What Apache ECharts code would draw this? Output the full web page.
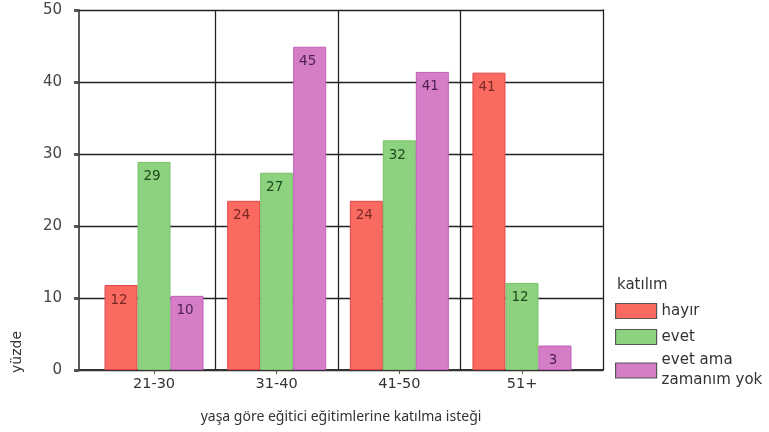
<!DOCTYPE html>
<html><head><meta charset="utf-8">
<script src="https://cdn.jsdelivr.net/npm/echarts@6/dist/echarts.min.js"></script>
<style>html,body{margin:0;padding:0;background:#fff}#c{width:769px;height:432px}</style>
</head><body><div id="c"></div>
<script>
const categories = ['21-30', '31-40', '41-50', '51+'];
const hayir = [11.8, 23.5, 23.5, 41.3];
const evet = [28.9, 27.4, 31.9, 12.1];
const evetAma = [10.3, 44.9, 41.4, 3.4];
const seriesNames = ['hayır', 'evet', 'evet ama zamanım yok'];
const yTicks = [0, 10, 20, 30, 40, 50];

const FONT = 'Noto Sans';
const FONT2 = 'DejaVu Sans';
// layout: frame box and inner category band box (pixels)
const frameL = 79, frameR = 603, bandL = 92.7, bandR = 583.3, gTop = 10, gBottom = 62;
const unit = (bandR - bandL) / categories.length;

const chart = echarts.init(document.getElementById('c'), null, {renderer: 'canvas'});
function mk(name, data, color, border, labelColor) {
  return {
    name, type: 'bar', data, barWidth: 33, barGap: '0%',
    xAxisIndex: 1, yAxisIndex: 2,
    itemStyle: {color, borderColor: border, borderWidth: 1},
    label: {show: true, position: 'insideTop', offset: [-2, 3], color: labelColor,
      fontFamily: FONT2, fontSize: 13.5, formatter: p => Math.round(p.value)}
  };
}
chart.setOption({
  animation: false,
  textStyle: {fontFamily: FONT},
  grid: [
    {left: frameL, right: 769 - frameR, top: gTop, bottom: gBottom},
    {left: bandL, right: 769 - bandR, top: gTop, bottom: gBottom}
  ],
  xAxis: [
    {
      type: 'value', gridIndex: 0,
      min: -(bandL - frameL) / unit, max: categories.length + (frameR - bandR) / unit,
      axisLine: {show: true, onZero: false, lineStyle: {color: '#333', width: 2}},
      axisTick: {show: false}, axisLabel: {show: false}, splitLine: {show: false},
      name: 'yaşa göre eğitici eğitimlerine katılma isteği',
      nameLocation: 'middle', nameGap: 40,
      nameTextStyle: {fontFamily: FONT, fontSize: 14, color: '#333'}
    },
    {
      type: 'category', gridIndex: 1, data: categories,
      axisLine: {show: false},
      axisTick: {show: true, alignWithLabel: true, length: 4, lineStyle: {color: '#555'}},
      axisLabel: {fontFamily: FONT2, fontSize: 14.5, color: '#333', margin: 7},
      splitLine: {show: false}
    }
  ],
  yAxis: [
    {
      type: 'value', gridIndex: 0, min: 0, max: 50, interval: 10,
      axisLine: {show: true, onZero: false, lineStyle: {color: '#222', width: 1.5}},
      axisTick: {show: true, length: 5, lineStyle: {color: '#555', width: 3}},
      axisLabel: {fontFamily: FONT2, fontSize: 15, color: '#444', margin: 17,
        formatter: v => yTicks.includes(v) ? String(v) : ''},
      splitLine: {show: true, lineStyle: {color: '#222', width: 1.3}}
    },
    {
      type: 'value', gridIndex: 0, min: 0, max: 50, position: 'right',
      axisLine: {show: true, onZero: false, lineStyle: {color: '#222', width: 1.3}},
      axisTick: {show: false}, axisLabel: {show: false}, splitLine: {show: false}
    },
    {
      type: 'value', gridIndex: 1, min: 0, max: 50, interval: 10, show: false
    }
  ],
  legend: {
    orient: 'vertical', left: 610, top: 296, height: 300, itemWidth: 41, itemHeight: 15, itemGap: 6,
    icon: 'rect',
    itemStyle: {borderColor: '#555', borderWidth: 1.2},
    textStyle: {fontFamily: FONT2, fontSize: 15, color: '#333', lineHeight: 20},
    data: [
      {name: seriesNames[0]},
      {name: seriesNames[1]},
      {name: seriesNames[2], textStyle: {height: 20}}
    ],
    formatter: n => n === 'evet ama zamanım yok' ? 'evet ama\nzamanım yok' : n
  },
  graphic: [
    {type: 'text', left: 617, top: 278, style: {text: 'katılım', fontFamily: FONT2, fontSize: 15, fill: '#333'}},
    {type: 'text', x: 10, y: 373, rotation: Math.PI / 2, style: {text: 'yüzde', fontFamily: FONT2, fontSize: 14, fill: '#333'}}
  ],
  series: [
    {
      type: 'line', xAxisIndex: 0, yAxisIndex: 0, data: [], silent: true,
      markLine: {
        silent: true, symbol: ['none', 'none'], label: {show: false},
        lineStyle: {color: '#222', width: 1.3, type: 'solid'},
        data: categories.slice(1).map((_, i) => ({xAxis: i + 1}))
      }
    },
    mk(seriesNames[0], hayir, '#fa6a60', '#e0464a', '#7a2a25'),
    mk(seriesNames[1], evet, '#8dd27e', '#7cc06e', '#1f4a20'),
    mk(seriesNames[2], evetAma, '#d67dc8', '#c060b8', '#4e2250')
  ]
});
</script></body></html>
